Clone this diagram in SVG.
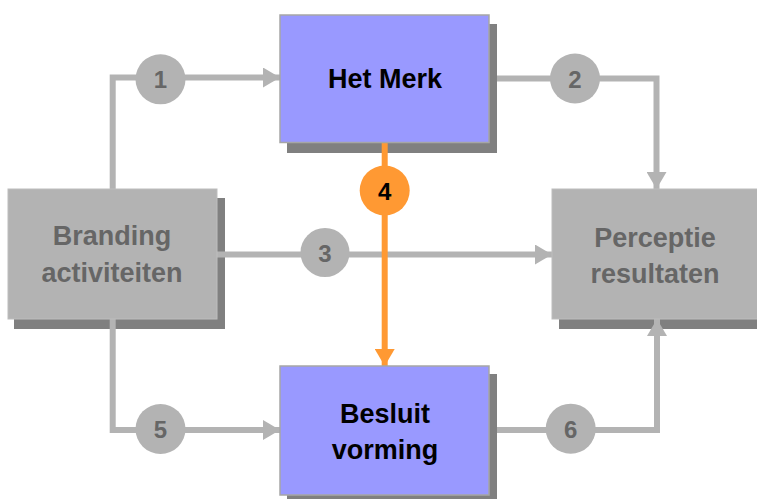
<svg xmlns="http://www.w3.org/2000/svg" width="757" height="499" viewBox="0 0 757 499">
  <style>
    .shadow { fill: #808080; }
    .box-grey { fill: #b3b3b3; stroke: #bdbdbd; stroke-width: 1; }
    .box-blue { fill: #9999ff; stroke: #a6a6a6; stroke-width: 1.5; }
    .label { font-family: "Liberation Sans", Arial, sans-serif; font-weight: bold; font-size: 27px; text-anchor: middle; }
    .label-grey { fill: #666666; }
    .label-dark { fill: #000000; }
    .wire { fill: none; stroke: #b3b3b3; stroke-width: 6; }
    .wire-orange { fill: none; stroke: #ff9933; stroke-width: 6; }
    .badge { fill: #b3b3b3; }
    .badge-orange { fill: #ff9933; }
    .num { font-family: "Liberation Sans", Arial, sans-serif; font-weight: bold; font-size: 24px; text-anchor: middle; fill: #666666; }
    .num-dark { fill: #000000; }
  </style>
  <defs>
    <marker id="head" markerUnits="userSpaceOnUse" markerWidth="18" markerHeight="20" refX="17" refY="10" orient="auto">
      <path d="M0,0 L17,10 L0,20 Z" fill="#b3b3b3"/>
    </marker>
    <marker id="head-orange" markerUnits="userSpaceOnUse" markerWidth="18" markerHeight="20" refX="17" refY="10" orient="auto">
      <path d="M0,0 L17,10 L0,20 Z" fill="#ff9933"/>
    </marker>
  </defs>

  <rect width="757" height="499" fill="#ffffff"/>

  <!-- drop shadows -->
  <rect class="shadow" x="14" y="198" width="211" height="131"/>
  <rect class="shadow" x="287" y="24" width="210" height="129"/>
  <rect class="shadow" x="559" y="198" width="210" height="131"/>
  <rect class="shadow" x="287" y="374" width="210" height="130"/>

  <!-- connectors -->
  <g id="connectors">
    <path class="wire" d="M112.7,189 V77.5 H280" marker-end="url(#head)"/>
    <path class="wire" d="M497,78.5 H656.5 V189" marker-end="url(#head)"/>
    <path class="wire" d="M217,254.5 H552" marker-end="url(#head)"/>
    <path class="wire" d="M112.7,319 V430 H280" marker-end="url(#head)"/>
    <path class="wire" d="M497,430 H657 V319" marker-end="url(#head)"/>
    <path class="wire-orange" d="M384.7,142 V366" marker-end="url(#head-orange)"/>
  </g>

  <!-- nodes -->
  <g id="branding">
    <rect class="box-grey" x="8" y="189" width="209" height="130"/>
    <text class="label label-grey" x="112" y="245">Branding</text>
    <text class="label label-grey" x="112" y="282">activiteiten</text>
  </g>
  <g id="het-merk">
    <rect class="box-blue" x="280" y="15" width="209" height="127.5"/>
    <text class="label label-dark" x="385" y="88">Het Merk</text>
  </g>
  <g id="perceptie">
    <rect class="box-grey" x="552" y="189" width="210" height="130"/>
    <text class="label label-grey" x="655" y="247">Perceptie</text>
    <text class="label label-grey" x="655" y="283">resultaten</text>
  </g>
  <g id="besluit">
    <rect class="box-blue" x="280" y="366" width="209" height="129"/>
    <text class="label label-dark" x="385" y="423">Besluit</text>
    <text class="label label-dark" x="385" y="459">vorming</text>
  </g>

  <!-- numbered badges -->
  <g id="badge-1">
    <circle class="badge" cx="160.5" cy="79.3" r="25"/>
    <text class="num" x="160.5" y="88">1</text>
  </g>
  <g id="badge-2">
    <circle class="badge" cx="575" cy="78.5" r="25"/>
    <text class="num" x="575" y="87.5">2</text>
  </g>
  <g id="badge-3">
    <circle class="badge" cx="325" cy="252.5" r="24.5"/>
    <text class="num" x="325" y="261.5">3</text>
  </g>
  <g id="badge-4">
    <circle class="badge-orange" cx="384.7" cy="190.5" r="25"/>
    <text class="num num-dark" x="384.7" y="199.5">4</text>
  </g>
  <g id="badge-5">
    <circle class="badge" cx="160.5" cy="429" r="25"/>
    <text class="num" x="160.5" y="438">5</text>
  </g>
  <g id="badge-6">
    <circle class="badge" cx="570.7" cy="428.7" r="25"/>
    <text class="num" x="570.7" y="437.7">6</text>
  </g>
</svg>
